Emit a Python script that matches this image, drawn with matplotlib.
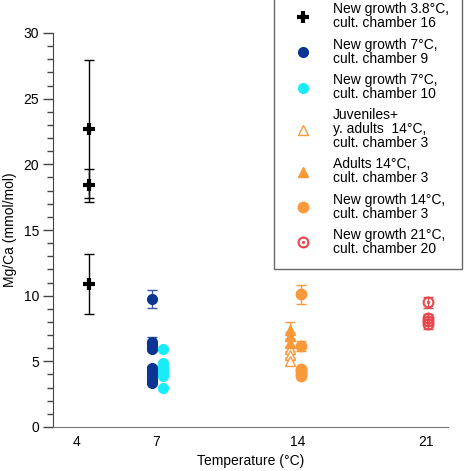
import numpy as np
import matplotlib
matplotlib.use('Agg')
import matplotlib.pyplot as plt
from matplotlib.ticker import MultipleLocator

plt.rcParams['font.family'] = ['Liberation Sans', 'DejaVu Sans']
plt.rcParams['font.size'] = 10

# Mg/Ca (mmol/mol) per group, with error (+/-)
temp_38 = 3.8
cross_y = [22.7, 18.4, 10.9]
cross_err = [5.25, 1.25, 2.28]

temp_7 = 7.0
blue_y = [9.75, 6.5, 6.3, 6.1, 5.95, 4.5, 4.25, 4.0, 3.75, 3.5, 3.35]
blue_err = [0.68, 0.35, 0.2, 0.2, 0.2, 0.15, 0.15, 0.15, 0.15, 0.15, 0.1]
cyan_y = [5.95, 4.85, 4.6, 4.35, 4.1, 3.9, 2.98]
cyan_err = [0.1, 0.1, 0.1, 0.1, 0.1, 0.1, 0.1]

temp_14 = 14.0
juv_y = [5.95, 5.5, 5.0]
juv_err = [0.25, 0.25, 0.28]
adult_y = [7.35, 6.9, 6.4]
adult_err = [0.68, 0.35, 0.3]
ng14_y = [10.1, 6.2, 4.45, 4.25, 4.05, 3.9]
ng14_err = [0.72, 0.38, 0.15, 0.15, 0.15, 0.12]

temp_21 = 21.0
red_y = [9.5, 8.3, 8.05, 7.85]
red_err = [0.43, 0.3, 0.3, 0.38]

xtick_pos = [3.2, 7.2, 14.4, 20.9]
xtick_labels = ['4', '7', '14', '21']

labels = ['New growth 3.8°C,\ncult. chamber 16',
          'New growth 7°C,\ncult. chamber 9',
          'New growth 7°C,\ncult. chamber 10',
          'Juveniles+\ny. adults  14°C,\ncult. chamber 3',
          'Adults 14°C,\ncult. chamber 3',
          'New growth 14°C,\ncult. chamber 3',
          'New growth 21°C,\ncult. chamber 20']

navy = '#0b3493'
cyan = '#19ecf7'
orange = '#f89a3c'
red = '#e8464c'
shift = 0.55  # side offset so groups at same temperature don't overlap

fig = plt.figure(figsize=(4.67, 4.71), dpi=100)
ax = fig.add_axes([53/467, 1 - 427/471, 395/467, 394/471])


def draw(x, y, err, ecolor, label, **kw):
    xs = np.full(len(y), x)
    ax.errorbar(xs, y, yerr=err, fmt='none', ecolor=ecolor, elinewidth=1,
                capsize=3.5, capthick=1, zorder=2)
    h, = ax.plot(xs, y, linestyle='none', label=label, zorder=3, **kw)
    return h


handles = []
handles.append(draw(temp_38, cross_y, cross_err, 'black', labels[0],
                    marker='+', ms=9, mew=3, color='black'))
handles.append(draw(temp_7, blue_y, blue_err, '#3a56a6', labels[1],
                    marker='o', ms=7, color=navy, mec=navy))
handles.append(draw(temp_7 + shift, cyan_y, cyan_err, cyan, labels[2],
                    marker='o', ms=7, color=cyan, mec=cyan))
handles.append(draw(temp_14, juv_y, juv_err, orange, labels[3],
                    marker='^', ms=6.5, mfc='white', mec=orange, mew=1))
handles.append(draw(temp_14, adult_y, adult_err, orange, labels[4],
                    marker='^', ms=7, color=orange, mec=orange))
handles.append(draw(temp_14 + shift, ng14_y, ng14_err, orange, labels[5],
                    marker='o', ms=7.5, color=orange, mec=orange))
handles.append(draw(temp_21, red_y, red_err, red, labels[6],
                    marker=r'$\odot$', ms=8, color=red, mec=red, mew=0.6))

ax.set_xlim(2, 22)
ax.set_ylim(0, 30)
ax.set_xticks(xtick_pos)
ax.set_xticklabels(xtick_labels)
ax.tick_params(axis='x', length=0, pad=6)
ax.yaxis.set_major_locator(MultipleLocator(5))
ax.yaxis.set_minor_locator(MultipleLocator(1))
ax.tick_params(axis='y', which='major', length=7, width=1, direction='out', pad=3, color='#444444')
ax.tick_params(axis='y', which='minor', length=4.3, width=1, direction='out', color='#444444')

for s in ['top', 'right']:
    ax.spines[s].set_visible(False)
ax.spines['left'].set_color('#444444')
ax.spines['bottom'].set_color('#777777')

ax.set_xlabel('Temperature (°C)', labelpad=3)
ax.set_ylabel('Mg/Ca (mmol/mol)')
ax.yaxis.set_label_coords(-0.09, 0.5)

# legend box runs off the top edge, as in the original figure
leg = fig.legend(handles=handles, loc='lower right', bbox_to_anchor=(462/467, 202/471),
                 bbox_transform=fig.transFigure, frameon=True, fancybox=False,
                 edgecolor='#444444', borderpad=0.95, handlelength=2.35, handletextpad=0.95,
                 labelspacing=0.52, borderaxespad=0)
leg.get_frame().set_linewidth(1)
for t in leg.get_texts():
    t.set_linespacing(1.0)

fig.savefig('out.png', dpi=100)
